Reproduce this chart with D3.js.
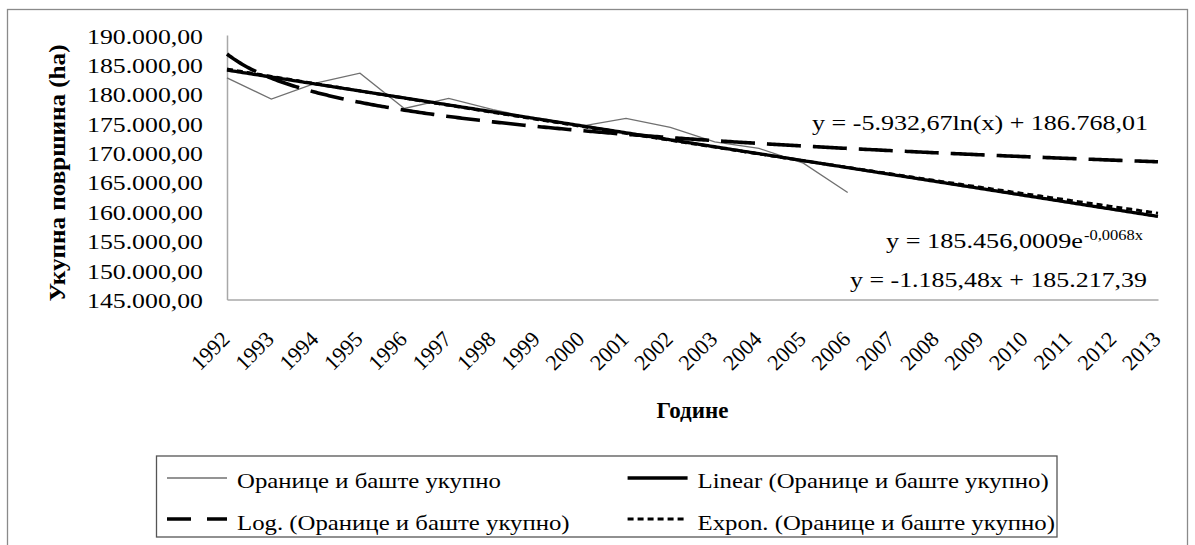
<!DOCTYPE html>
<html><head><meta charset="utf-8">
<script src="https://cdn.jsdelivr.net/npm/d3@7"></script>
<style>
body{margin:0;background:#fff}
svg{display:block}
text{font-family:"Liberation Serif","Times New Roman",serif;fill:#000}
</style>
</head><body>
<svg id="c" width="1195" height="545"></svg>
<script>
// ---- data ----
const years = ["1992","1993","1994","1995","1996","1997","1998","1999","2000","2001","2002","2003","2004","2005","2006","2007","2008","2009","2010","2011","2012","2013"];
const values = [182700,179100,181800,183500,177500,179200,177300,175700,174500,175800,174300,171800,170700,168200,163200];
const yTicks = [145000,150000,155000,160000,165000,170000,175000,180000,185000,190000];
const linearCoef = [-1185.48, 185217.39];   // y = a*x + b
const logCoef = [-5932.67, 186768.01];      // y = a*ln(x) + b
const expCoef = [185456.0009, -0.0068];     // y = a*e^(b*x)
const seriesName = "Оранице и баште укупно";
const legendLabels = [seriesName, "Linear (Оранице и баште укупно)", "Log. (Оранице и баште укупно)", "Expon. (Оранице и баште укупно)"];
const eqLinear = "y = -1.185,48x + 185.217,39";
const eqLog = "y = -5.932,67ln(x) + 186.768,01";
const eqExpMain = "y = 185.456,0009e";
const eqExpSup = "-0,0068x";
const yTitle = "Укупна површина (ha)";
const xTitle = "Године";

// ---- layout ----
const L = 227, R = 1158, T = 35, B = 299.5;
const svg = d3.select("#c");
svg.append("rect").attr("x",7.5).attr("y",9.5).attr("width",1180).attr("height",560)
  .attr("fill","#fff").attr("stroke","#8a8a8a").attr("stroke-width",1.3);

const x = d3.scalePoint().domain(years).range([L, R]).padding(0);
const xi = d3.scaleLinear().domain([1, years.length]).range([L, R]);
const y = d3.scaleLinear().domain([145000, 190000]).range([B, T]);

const loc = d3.formatLocale({decimal:",", thousands:".", grouping:[3], currency:["",""]});
const fmt = loc.format(",.2f");

// y axis
const gy = svg.append("g").attr("transform",`translate(${L},0)`)
  .call(d3.axisLeft(y).tickValues(yTicks).tickFormat(fmt).tickSize(0).tickSizeOuter(0).tickPadding(24));
gy.select(".domain").attr("stroke","#a8a8a8").attr("stroke-width",1.5);
gy.selectAll("text").attr("font-size",22).attr("dy",null).attr("y",8)
  .attr("font-family","Liberation Serif")
  .attr("textLength",116).attr("lengthAdjust","spacingAndGlyphs");

// x axis
const gx = svg.append("g").attr("transform",`translate(0,${B})`)
  .call(d3.axisBottom(x).tickSize(0).tickSizeOuter(0));
gx.select(".domain").attr("stroke","#a8a8a8").attr("stroke-width",1.5);
gx.selectAll("text").attr("font-size",22).attr("font-family","Liberation Serif")
  .attr("dy",null).attr("y",null).attr("text-anchor","end")
  .attr("transform","translate(3.5,41) rotate(-45)");

// data line
svg.append("path").datum(values)
  .attr("fill","none").attr("stroke","#707070").attr("stroke-width",1.3)
  .attr("d", d3.line().x((d,i)=>x(years[i])).y(d=>y(d)));

// trendlines
const xs = d3.range(1, years.length + 0.001, 0.05);
const line = d3.line().x(d=>xi(d[0])).y(d=>y(d[1]));
svg.append("path").datum(xs.map(t=>[t, linearCoef[0]*t + linearCoef[1]]))
  .attr("fill","none").attr("stroke","#000").attr("stroke-width",3.3).attr("d",line);
svg.append("path").datum(xs.map(t=>[t, logCoef[0]*Math.log(t) + logCoef[1]]))
  .attr("fill","none").attr("stroke","#000").attr("stroke-width",3.6)
  .attr("stroke-dasharray","34,12").attr("d",line);
svg.append("path").datum(xs.map(t=>[t, expCoef[0]*Math.exp(expCoef[1]*t)]))
  .attr("fill","none").attr("stroke","#000").attr("stroke-width",3)
  .attr("stroke-dasharray","6,4").attr("d",line);

// equations
svg.append("text").attr("x",1148).attr("y",130).attr("text-anchor","end").attr("font-size",22)
  .attr("textLength",336).attr("lengthAdjust","spacingAndGlyphs").text(eqLog);
svg.append("text").attr("x",886).attr("y",248).attr("font-size",22)
  .attr("textLength",197).attr("lengthAdjust","spacingAndGlyphs").text(eqExpMain);
svg.append("text").attr("x",1084).attr("y",240).attr("font-size",15)
  .attr("textLength",59).attr("lengthAdjust","spacingAndGlyphs").text(eqExpSup);
svg.append("text").attr("x",1147).attr("y",287).attr("text-anchor","end").attr("font-size",22)
  .attr("textLength",297).attr("lengthAdjust","spacingAndGlyphs").text(eqLinear);

// axis titles
svg.append("text").attr("transform","translate(65,173) rotate(-90)").attr("text-anchor","middle")
  .attr("font-size",24).attr("font-weight","bold")
  .attr("textLength",257).attr("lengthAdjust","spacingAndGlyphs").text(yTitle);
svg.append("text").attr("x",(L+R)/2).attr("y",418).attr("text-anchor","middle")
  .attr("font-size",23).attr("font-weight","bold").text(xTitle);

// legend
const lg = svg.append("g");
lg.append("rect").attr("x",156.5).attr("y",456).attr("width",900.5).attr("height",81)
  .attr("fill","#fff").attr("stroke","#555").attr("stroke-width",1.3);
const stretch = 1.18;
const legStyles = [
  {w:1.3, c:"#707070", dash:null},
  {w:3.3, c:"#000", dash:null},
  {w:3.6, c:"#000", dash:"24,16"},
  {w:3, c:"#000", dash:"6,4"}
];
const rowText = [488, 530], rowLine = [478, 519];
const texts = legendLabels.map((lab,i)=>{
  const t = lg.append("text").attr("font-size",21).text(lab);
  const n = t.node().getComputedTextLength();
  t.attr("textLength", n*stretch).attr("lengthAdjust","spacingAndGlyphs");
  return {t, len:n*stretch};
});
const col2Right = 1055;
const col2Text = col2Right - Math.max(texts[1].len, texts[3].len);
const colText = [237, col2Text];
legendLabels.forEach((lab,i)=>{
  const col = i % 2, row = Math.floor(i/2);
  const tx = colText[col];
  const st = legStyles[i];
  lg.append("line").attr("x1",tx-70).attr("x2",tx-10).attr("y1",rowLine[row]).attr("y2",rowLine[row])
    .attr("stroke",st.c).attr("stroke-width",st.w).attr("stroke-dasharray",st.dash);
  texts[i].t.attr("x",tx).attr("y",rowText[row]);
});
</script>
</body></html>
